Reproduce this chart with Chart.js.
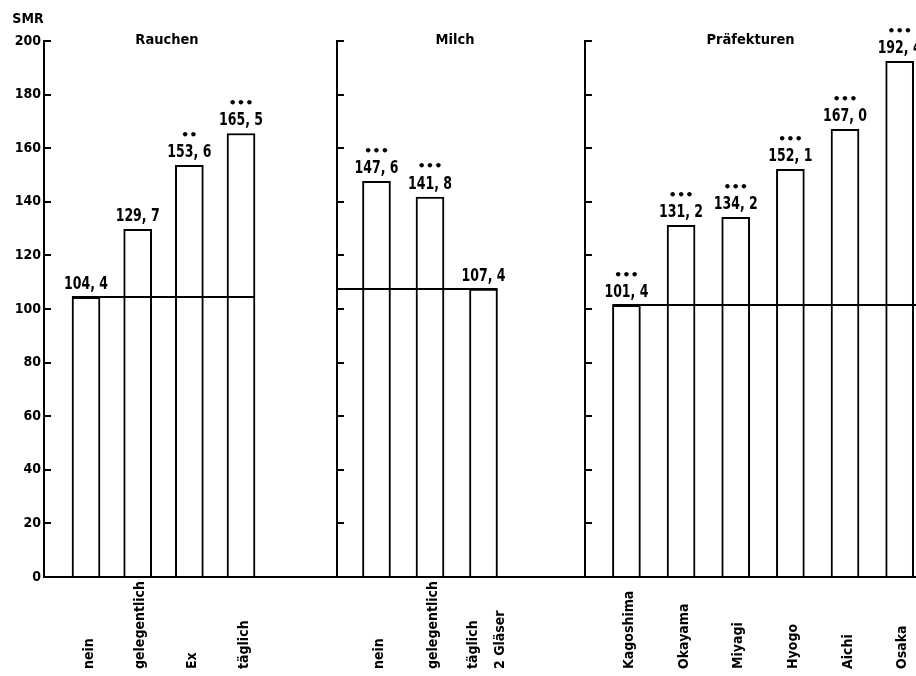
<!DOCTYPE html>
<html lang="de">
<head>
<meta charset="utf-8">
<title>SMR</title>
<script src="https://cdn.jsdelivr.net/npm/chart.js@4.4.1/dist/chart.umd.min.js"></script>
<style>
  html, body { margin: 0; padding: 0; background: #fff; }
  #wrap { position: relative; width: 916px; height: 676px; overflow: hidden; }
  canvas { position: absolute; top: 0; }
</style>
</head>
<body>
<div id="wrap">
  <canvas id="c1" width="290" height="676" style="left:0"></canvas>
  <canvas id="c2" width="283" height="676" style="left:290px"></canvas>
  <canvas id="c3" width="343" height="676" style="left:573px"></canvas>
</div>
<script>
const smokingLabels = ['nein', 'gelegentlich', 'Ex', 'täglich'];
const smokingSmr = [104.4, 129.7, 153.6, 165.5];
const smokingStars = ['', '', '**', '***'];

const milkLabels = ['nein', 'gelegentlich', ['täglich', '2 Gläser']];
const milkSmr = [147.6, 141.8, 107.4];
const milkStars = ['***', '***', ''];

const prefLabels = ['Kagoshima', 'Okayama', 'Miyagi', 'Hyogo', 'Aichi', 'Osaka'];
const prefSmr = [101.4, 131.2, 134.2, 152.1, 167.0, 192.4];
const prefStars = ['***', '***', '***', '***', '***', '***'];

const FONT = '"DejaVu Sans Condensed", "DejaVu Sans", sans-serif';

function fmt(v) {
  return v.toFixed(1).replace('.', ', ');
}

function panelPlugin(p) {
  return {
    id: 'smrPanel',
    afterDatasetsDraw(chart) {
      const ctx = chart.ctx;
      const area = chart.chartArea;
      const y = chart.scales.y;
      const bars = chart.getDatasetMeta(0).data;

      ctx.save();
      ctx.strokeStyle = '#000';
      ctx.fillStyle = '#000';
      ctx.lineWidth = 2;

      // reference level
      const ref = bars[p.refIndex];
      const refY = Math.round(ref.y);
      const x0 = p.refFrom === 'axis' ? area.left : bars[0].x - bars[0].width / 2;
      const last = bars[bars.length - 1];
      const x1 = p.refTo === 'edge' ? area.right : last.x + last.width / 2;
      ctx.beginPath();
      ctx.moveTo(x0, refY);
      ctx.lineTo(x1, refY);
      ctx.stroke();

      // baseline across the whole canvas
      ctx.beginPath();
      ctx.moveTo(p.first ? area.left : 0, area.bottom);
      ctx.lineTo(chart.width, area.bottom);
      ctx.stroke();

      // inward tick marks
      ctx.beginPath();
      y.ticks.forEach(t => {
        const py = Math.round(y.getPixelForValue(t.value));
        ctx.moveTo(area.left, py);
        ctx.lineTo(area.left + 7, py);
      });
      ctx.stroke();

      // values and significance dots
      ctx.textAlign = 'center';
      bars.forEach((b, i) => {
        ctx.save();
        ctx.translate(b.x, b.y - 8);
        ctx.scale(0.82, 1);
        ctx.font = 'bold 17px ' + FONT;
        ctx.textBaseline = 'alphabetic';
        ctx.fillText(fmt(p.values[i]), 0, 0);
        ctx.restore();
        const s = p.stars[i];
        if (s) {
          ctx.font = 'bold 13px "DejaVu Sans", sans-serif';
          ctx.textBaseline = 'middle';
          ctx.fillText(s.replace(/\*/g, '\u2022'), b.x, b.y - 30);
        }
      });

      // category labels, read bottom to top
      ctx.font = 'bold 14px ' + FONT;
      ctx.textAlign = 'left';
      ctx.textBaseline = 'middle';
      bars.forEach((b, i) => {
        const lines = [].concat(p.labels[i]);
        lines.forEach((line, k) => {
          const lx = b.x + 3 + (k - (lines.length - 1) / 2) * 27;
          ctx.save();
          ctx.translate(lx, 669);
          ctx.rotate(-Math.PI / 2);
          ctx.fillText(line, 0, 0);
          ctx.restore();
        });
      });

      // panel title
      ctx.font = 'bold 14.5px ' + FONT;
      ctx.textAlign = 'center';
      ctx.textBaseline = 'alphabetic';
      ctx.fillText(p.title, (area.left + area.right) / 2, area.top + 3);

      if (p.first) {
        ctx.font = 'bold 14px ' + FONT;
        ctx.fillText('SMR', area.left - 16, area.top - 18);
      }
      ctx.restore();
    }
  };
}

function makePanel(id, p) {
  const points = p.values.map((v, i) => ({ x: i, y: v }));
  return new Chart(document.getElementById(id), {
    type: 'bar',
    data: {
      datasets: [{
        data: points,
        backgroundColor: '#fff',
        borderColor: '#000',
        borderWidth: 2,
        barThickness: 28
      }]
    },
    options: {
      responsive: false,
      animation: false,
      layout: { padding: { top: 41, bottom: 99, left: 0, right: 0 } },
      scales: {
        x: { type: 'linear', display: false, offset: false, min: p.xMin, max: p.xMax },
        y: {
          min: 0,
          max: 200,
          ticks: {
            stepSize: 20,
            display: p.first,
            color: '#000',
            padding: 3,
            font: { family: FONT, size: 14, weight: 'bold' }
          },
          grid: { drawOnChartArea: false, drawTicks: false },
          border: { color: '#000', width: 2 },
          afterFit: s => { s.width = p.axisWidth; }
        }
      },
      plugins: { legend: { display: false }, tooltip: { enabled: false } }
    },
    plugins: [panelPlugin(p)]
  });
}

makePanel('c1', {
  title: 'Rauchen', labels: smokingLabels, values: smokingSmr, stars: smokingStars,
  first: true, axisWidth: 44, xMin: -0.813, xMax: 3.948,
  refIndex: 0, refFrom: 'bar', refTo: 'bar'
});
makePanel('c2', {
  title: 'Milch', labels: milkLabels, values: milkSmr, stars: milkStars,
  first: false, axisWidth: 47, xMin: -0.738, xMax: 3.673,
  refIndex: 2, refFrom: 'axis', refTo: 'bar'
});
makePanel('c3', {
  title: 'Präfekturen', labels: prefLabels, values: prefSmr, stars: prefStars,
  first: false, axisWidth: 12, xMin: -0.758, xMax: 5.299,
  refIndex: 0, refFrom: 'bar', refTo: 'edge'
});
</script>
</body>
</html>
